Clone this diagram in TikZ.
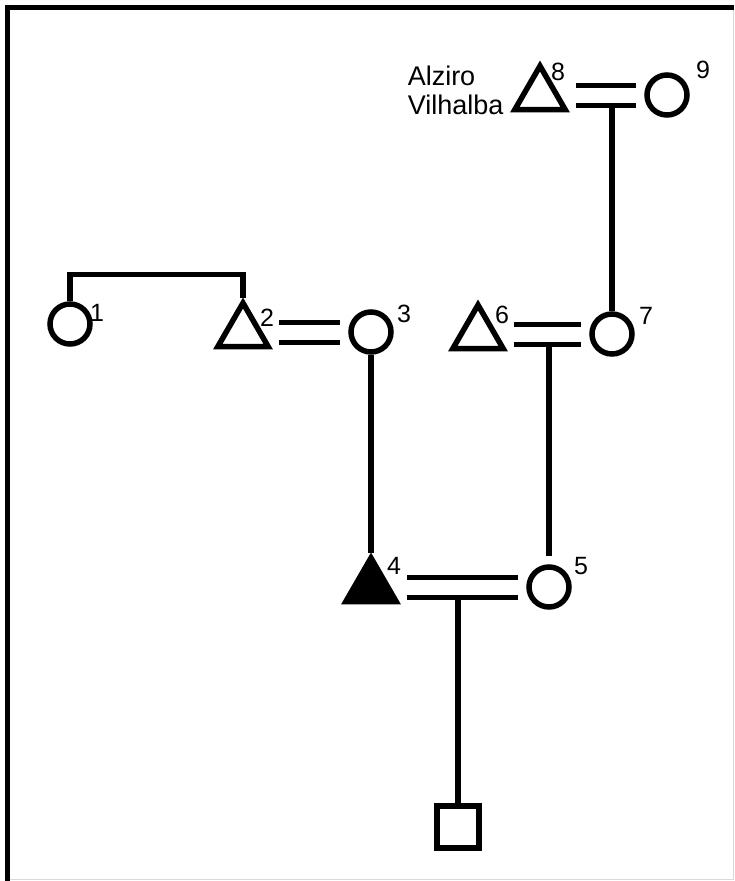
\documentclass[tikz,border=0pt]{standalone}
\usepackage{fontspec}
\setmainfont{Liberation Sans}
\usepackage{tikz}
\usetikzlibrary{shapes.geometric}
\begin{document}
\begin{tikzpicture}[x=1pt,y=-1pt,line width=5.5pt,
       female/.style={circle,draw,minimum size=40pt,inner sep=0pt},
       male/.style={regular polygon,regular polygon sides=3,draw,minimum size=58pt,inner sep=0pt},
       unknown/.style={rectangle,draw,minimum size=42pt,inner sep=0pt},
       num/.style={font=\fontsize{25}{27}\selectfont,inner sep=0pt},
       persname/.style={font=\fontsize{27}{29}\selectfont,inner sep=0pt,align=left},
       marriage/.style={double,line width=5pt,double distance=15pt,shorten <=16pt,shorten >=8pt}]
       \useasboundingbox(0,0)rectangle(734,881);
       \draw[black!15,line width=1pt](733,7.5)--(733,879)--(7.5,879);
       \draw(7.5,881)--(7.5,7.5)--(734,7.5);
       \node[male](t8)at(540,95){};
       \node[female](c9)at(667,95){};
       \node[female](c1)at(70,324){};
       \node[male](t2)at(243,332){};
       \node[female](c3)at(371,332){};
       \node[male](t6)at(478,334){};
       \node[female](c7)at(612,334){};
       \node[male,fill](t4)at(371,587){};
       \node[female](c5)at(549,587){};
       \node[unknown](sq)at(458,827){};
       \node[persname,anchor=north west](alziro)at(405,63){Alziro\\Vilhalba};
       \node[num](n1)at(97,313){1};
       \node[num](n2)at(267,318){2};
       \node[num](n3)at(404,314){3};
       \node[num](n4)at(394,566){4};
       \node[num](n5)at(581,566){5};
       \node[num](n6)at(502,315){6};
       \node[num](n7)at(646,316){7};
       \node[num](n8)at(558,72){8};
       \node[num](n9)at(703,70){9};
       \draw(c1.north)--++(0,-27)-|(t2.north);
       \draw(c7.north)--(c7.north|-c9);
       \draw[shorten <=8pt](c5.north)--(c5.north|-c7);
       \draw(c3.south)--(t4.north);
       \draw(sq.north)--(sq.north|-c5);
       \draw[marriage](t8)--(c9);
       \draw[marriage](t2)--(c3);
       \draw[marriage](t6)--(c7);
       \draw[marriage](t4)--(c5);
      \end{tikzpicture}
\end{document}
